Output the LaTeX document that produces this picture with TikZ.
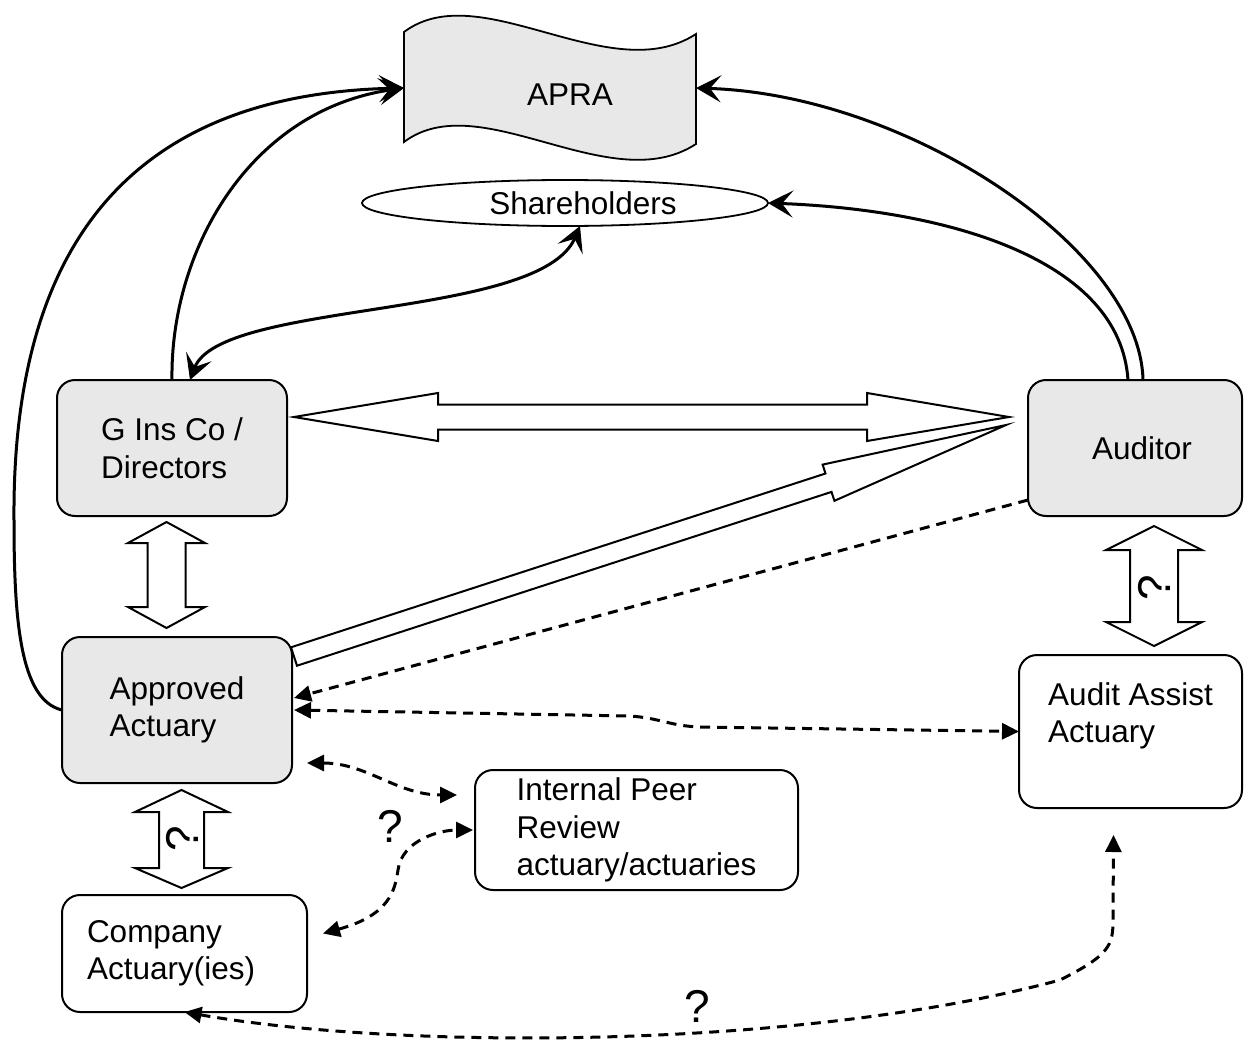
\documentclass[tikz,border=0pt]{standalone}
\usepackage{fontspec}
\setmainfont{Liberation Sans}
\usetikzlibrary{arrows.meta,shapes.geometric,calc}
\definecolor{boxgray}{HTML}{E8E8E8}
\begin{document}
\begin{tikzpicture}[x=1pt,y=-1pt,
  txt/.style={font=\fontsize{31.5}{37.5}\selectfont},
  qm/.style={font=\fontsize{46}{50}\selectfont, inner sep=0pt},
  box/.style={draw, line width=2pt, rounded corners=18pt, txt, align=left, inner sep=0pt, outer sep=0pt},
  gbox/.style={box, fill=boxgray},
  wbox/.style={box, fill=white},
  solidconn/.style={line width=3pt},
  stip/.tip={Stealth[length=25pt,width=27pt,inset=11pt]},
  dtip/.tip={Triangle[length=17pt,width=16pt]},
  dashconn/.style={line width=3pt, dash pattern=on 10pt off 7pt},
  blockarrow/.style={draw, line width=2pt, fill=white, line join=miter}
]
\useasboundingbox (0,0) rectangle (1244,1041);

% APRA (wave shape)
\node[minimum width=292pt, minimum height=110pt, inner sep=0pt, outer sep=0pt] (apra) at (550,88) {};
\draw[line width=1.8pt, fill=boxgray] (404,32) .. controls (480,-25) and (610,90) .. (696,34) -- (696,144) .. controls (610,200) and (480,85) .. (404,142) -- cycle;
\node[txt] (apratext) at (570,95) {APRA};

% Shareholders
\node[draw, ellipse, line width=1.8pt, minimum width=406pt, minimum height=46pt, inner sep=0pt, outer sep=0pt, txt] (sh) at (565,203) {\hspace*{36pt}Shareholders};

% boxes
\node[gbox, minimum width=230pt, minimum height=136pt] (gic) at (172,448) {G Ins Co /\\Directors};
\node[gbox, minimum width=214pt, minimum height=136pt] (aud) at (1135,448) {\hspace*{14pt}Auditor};
\node[gbox, minimum width=230pt, minimum height=146pt] (aa) at (177,710) {Approved\\Actuary};
\node[wbox, text width=195pt, inner xsep=25pt, minimum height=117pt] (ca) at (184.5,953.5) {Company\\Actuary(ies)};
\node[wbox, minimum width=323pt, minimum height=120pt] (ipr) at (636.5,830) {Internal Peer\\Review\\actuary/actuaries};
\node[wbox, minimum width=223pt, minimum height=153pt] (aas) at (1130.5,731.5) {Audit Assist\\Actuary\\\mbox{}};

% solid curved connectors
\draw[solidconn, -stip] (aa.west) .. controls (20,700) and (14,620) .. (14,520) .. controls (12,270) and (110,95) .. (apra.west);
\draw[solidconn, -stip] (gic.north) .. controls (170,250) and (250,110) .. (apra.west);
\draw[solidconn, -stip] ($(aud.north)+(8,0)$) .. controls (1140,250) and (910,95) .. (apra.east);
\draw[solidconn, -stip] ($(aud.north)+(-7,0)$) .. controls (1120,260) and (950,210) .. (sh.east);
\draw[solidconn, stip-stip] ($(gic.north)+(18,0)$) .. controls (220,300) and (540,320) .. ($(sh.south)+(15,0)$);

% dashed connectors
\draw[dashconn, -dtip] ($(aud.south west)+(0,-16)$) -- ($(aa.east)+(2,-12)$);
\draw[dashconn, dtip-dtip] ($(aa.east)+(2,0)$) -- (630,716) .. controls (660,718) and (670,726) .. (700,727) -- (aas.west);
\coordinate (aaipr1) at ($(aa.south east)+(15,-20)$);
\coordinate (aaipr2) at ($(ipr.west)+(-18,-35)$);
\draw[dashconn, dtip-dtip] (aaipr1) to[out=0,in=180] (aaipr2);
\coordinate (caipr) at ($(ca.east)+(16,-20)$);
\draw[dashconn, dtip-dtip] (caipr) .. controls (390,915) and (395,890) .. (398,870) .. controls (402,840) and (440,830) .. ($(ipr.west)+(-2,0)$);
\coordinate (aasb) at ($(aas.south)+(-17,27)$);
\draw[dashconn, dtip-dtip] (ca.south) .. controls (400,1050) and (800,1050) .. (1060,980) .. controls (1110,955) and (1113,945) .. (1113,920) -- (aasb);

% block arrows
\draw[blockarrow] (294,417) -- (438,393) -- (438,404.5) -- (867,404.5) -- (867,393) -- (1009,417) -- (867,441) -- (867,429.5) -- (438,429.5) -- (438,441) -- cycle;
\draw[blockarrow] (291,647.3) -- (825.5,473.5) -- (822.6,464.6) -- (1006,425) -- (834.4,500.8) -- (831.5,491.9) -- (297,665.7) -- cycle;
\draw[blockarrow] (166.5,522) -- (205,543) -- (185.5,543) -- (185.5,607) -- (205,607) -- (166.5,628) -- (128,607) -- (147.5,607) -- (147.5,543) -- (128,543) -- cycle;
\draw[blockarrow] (181.5,790) -- (228,812) -- (204,812) -- (204,868) -- (228,868) -- (181.5,888) -- (135,868) -- (159,868) -- (159,812) -- (135,812) -- cycle;
\draw[blockarrow] (1154,526) -- (1202,550) -- (1178,550) -- (1178,622) -- (1202,622) -- (1154,646) -- (1106,622) -- (1130,622) -- (1130,550) -- (1106,550) -- cycle;

% question marks
\node[qm, rotate=90] (q3) at (182,839) {?};
\node[qm, rotate=90] (q4) at (1154,588) {?};
\node[qm] (q1) at (390,826) {?};
\node[qm] (q2) at (697,1006) {?};
\end{tikzpicture}
\end{document}
